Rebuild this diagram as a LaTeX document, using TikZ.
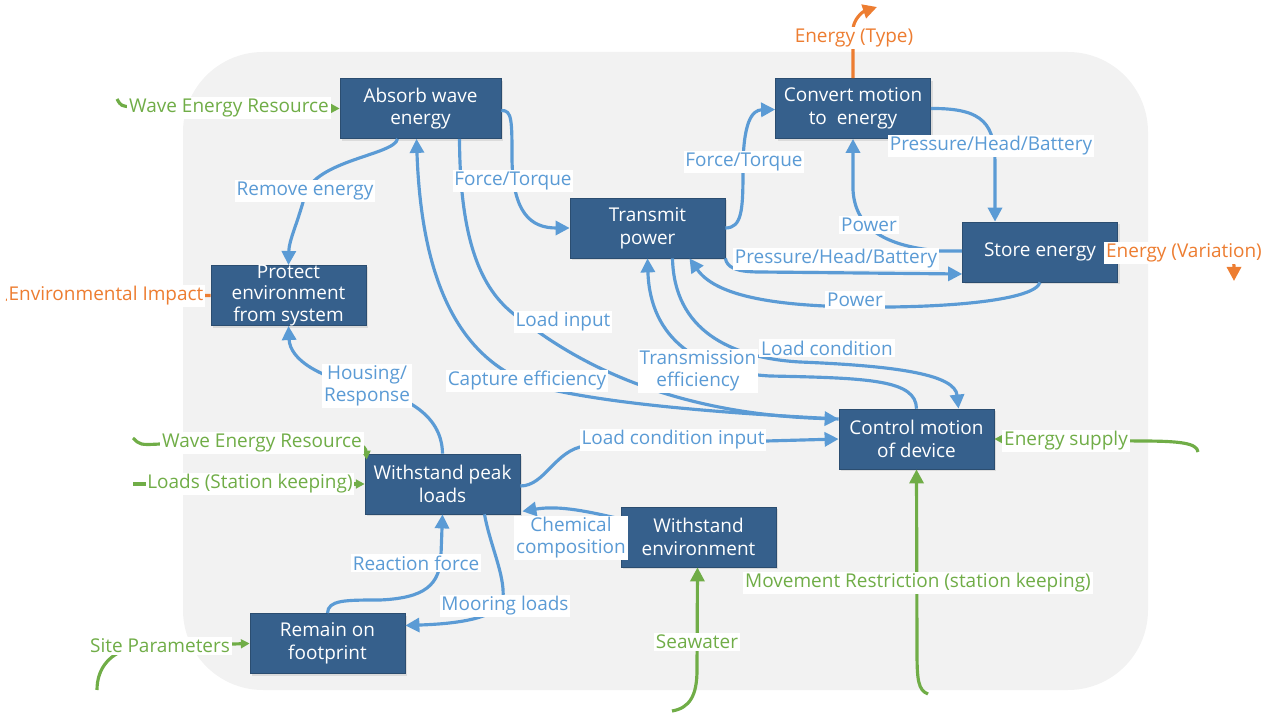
\documentclass[tikz,border=0pt]{standalone}
\usepackage{fontspec}
\setmainfont{Open Sans}
\usetikzlibrary{arrows.meta, calc, shadows}

\definecolor{boxblue}{HTML}{36608C}
\definecolor{linkblue}{HTML}{5B9BD5}
\definecolor{inputgreen}{HTML}{70AD47}
\definecolor{outputorange}{HTML}{ED7D31}
\definecolor{panelgray}{HTML}{F2F2F2}

\tikzset{
  func/.style={rectangle, draw=boxblue!80!black, line width=0.4pt, fill=boxblue,
    text=white, align=center, minimum width=3.1cm, minimum height=1.2cm,
    inner sep=1pt, font=\fontsize{10.8}{13}\selectfont,
    drop shadow={opacity=0.2, shadow xshift=1.2pt, shadow yshift=-1.2pt}},
  flow/.style={draw=linkblue, line width=1.8pt, -{Triangle[length=8pt,width=8pt]}},
  feed/.style={draw=inputgreen, line width=1.8pt, -{Triangle[length=5pt,width=5pt]}},
  bigfeed/.style={feed, -{Triangle[length=8pt,width=8pt]}},
  emit/.style={draw=outputorange, line width=1.8pt, -{Triangle[length=8pt,width=8pt]}},
  tag/.style={fill=white, inner sep=1pt, text=linkblue, align=center,
    font=\fontsize{10.8}{12.5}\selectfont},
  gtag/.style={tag, text=inputgreen},
  otag/.style={tag, text=outputorange},
}

\begin{document}
\begin{tikzpicture}[x=0.02cm, y=-0.02cm]
\useasboundingbox (0,0) rectangle (1272,713);
% panel
\fill[panelgray, rounded corners=1.6cm] (183,52) rectangle (1148,690);

% functions
\node[func, minimum width=3.22cm] (absorb) at (420.5,108.5) {Absorb wave\\energy};
\node[func] (convert) at (853,108.5) {Convert motion\\to~ energy};
\node[func] (transmit) at (647.5,228) {Transmit\\power};
\node[func] (store) at (1040,252) {Store energy};
\node[func, inner sep=0pt, font=\fontsize{10.8}{12}\selectfont] (protect) at (288.5,295.5) {Protect\\environment\\from system};
\node[func] (control) at (916.5,439) {Control motion\\of device};
\node[func] (peak) at (442.5,484) {Withstand peak\\loads};
\node[func] (envir) at (698.5,537) {Withstand\\environment};
\node[func] (footprint) at (327.5,643.5) {Remain on\\footprint};

% free ends
\coordinate (werA) at (117,99);
\coordinate (werB) at (133,438);
\coordinate (loadsin) at (133,484);
\coordinate (sitein) at (97,690);
\coordinate (seain) at (672,711);
\coordinate (movein) at (928,694);
\coordinate (supplyin) at (1198,452);
\coordinate (typeout) at (877,7);
\coordinate (varout) at (1234,281);
\coordinate (impactout) at (7,301);

% inputs
\draw[feed] (werA) .. controls (121,106) .. (132,107) -- (absorb.west);
\draw[feed] (werB) .. controls (140,445) .. (160,444) -- (355,444)
  .. controls (364,444) and (366,450) .. ($(peak.north west)+(2,6)$);
\draw[feed] (loadsin) -- (peak.west);
\draw[feed] (sitein) .. controls (97,668) and (110,652) .. (135,647) -- (footprint.west);
\draw[bigfeed] (seain) .. controls (690,708) and (697,695) .. (697,670) -- ($(envir.south)+(-1,0)$);
\draw[bigfeed] (movein) .. controls (918,690) and (917,680) .. (917,650) -- (control.south);
\draw[feed] (supplyin) .. controls (1197,443) and (1180,441) .. (1140,441) -- (control.east);

% outputs
\draw[emit] (convert.north) -- (853,30) .. controls (853,20) and (862,12) .. (typeout);
\draw[emit] (store.east) -- (1222,252) .. controls (1232,252) and (1234,260) .. (varout);
\draw[draw=outputorange, line width=1.8pt] (protect.west) -- (10,296) -- (impactout);

% internal flows
\draw[flow] ($(absorb.south)+(-23,0)$) .. controls (395,155) and (315,160) .. (305,195)
  .. controls (297,225) and (289,240) .. (protect.north);
\draw[flow] ($(absorb.east)+(0,2)$) .. controls (512,110) and (512,120) .. (512,160)
  .. controls (513,212) and (530,228) .. (transmit.west);
\draw[flow] (transmit.east) .. controls (742,228) and (743,210) .. (743,170)
  .. controls (743,122) and (752,110) .. ($(convert.west)+(0,1)$);
\draw[flow] (convert.east) .. controls (985,108) and (995,125) .. (995,165)
  -- ($(store.north)+(-45,0)$);
\draw[flow] ($(store.west)+(0,-1)$) -- (940,251) .. controls (880,246) and (855,225) .. (853,190)
  -- (convert.south);
\draw[flow] (transmit.south east) .. controls (727,267) and (735,272) .. (760,272)
  -- ($(store.west)+(0,22)$);
\draw[flow] (store.south) .. controls (1035,300) and (950,308) .. (860,307)
  .. controls (770,306) and (715,295) .. ($(transmit.south)+(42,0)$);
\draw[flow] ($(absorb.south)+(39,0)$) .. controls (460,260) and (490,300) .. (525,322)
  .. controls (600,380) and (700,415) .. ($(control.west)+(0,-20)$);
\draw[flow] ($(control.west)+(0,-20)$) .. controls (700,412) and (600,402) .. (540,387)
  .. controls (470,365) and (422,300) .. ($(absorb.south)+(-4,0)$);
\draw[flow] ($(peak.east)+(0,2)$) .. controls (545,486) and (555,450) .. (585,446)
  -- (control.west);
\draw[flow] (control.north) .. controls (916,380) and (870,378) .. (770,376)
  .. controls (700,372) and (650,340) .. (transmit.south);
\draw[flow] ($(transmit.south)+(25,0)$) .. controls (674,330) and (730,358) .. (800,362)
  .. controls (900,366) and (955,375) .. ($(control.north)+(42,0)$);
\draw[flow] (peak.north) .. controls (442,412) and (400,395) .. (366,387)
  .. controls (320,378) and (290,360) .. (protect.south);
\draw[flow] ($(envir.west)+(0,-18)$) .. controls (590,512) and (560,505) .. ($(peak.south east)+(2,-3)$);
\draw[flow] (footprint.north) .. controls (328,600) and (345,600) .. (380,600)
  .. controls (425,598) and (440,585) .. (441,555) -- (peak.south);
\draw[flow] ($(peak.south)+(42,0)$) .. controls (490,545) and (505,575) .. (503,598)
  .. controls (500,620) and (450,624) .. ($(footprint.east)+(0,-18)$);

% labels
\node[gtag] (tWerA) at (229,108) {Wave Energy Resource};
\node[otag] (tType) at (854,38) {Energy (Type)};
\node[otag] (tVar) at (1184,253) {Energy (Variation)};
\node[otag] (tImpact) at (106,296) {Environmental Impact};
\node[tag] (tRemove) at (305,191) {Remove energy};
\node[tag] (tForceA) at (513,181) {Force/Torque};
\node[tag] (tForceB) at (744,162) {Force/Torque};
\node[tag] (tPhbA) at (991,146) {Pressure/Head/Battery};
\node[tag] (tPowerA) at (869,225) {Power};
\node[tag] (tPhbB) at (836,259) {Pressure/Head/Battery};
\node[tag] (tPowerB) at (855,300) {Power};
\node[tag] (tLoadIn) at (563,322) {Load input};
\node[tag] (tCapture) at (527,381) {Capture efficiency};
\node[tag] (tTrans) at (698,371) {Transmission\\efficiency};
\node[tag] (tLoadCond) at (827,348) {Load condition};
\node[tag] (tLoadCondIn) at (673,440) {Load condition input};
\node[tag] (tHousing) at (367,386) {Housing/\\Response};
\node[gtag] (tWerB) at (262,443) {Wave Energy Resource};
\node[gtag] (tLoads) at (250,484) {Loads (Station keeping)};
\node[tag] (tChem) at (571,538) {Chemical\\composition};
\node[tag] (tReact) at (416,563) {Reaction force};
\node[tag] (tMoor) at (505,606) {Mooring loads};
\node[gtag] (tSite) at (160,646) {Site Parameters};
\node[gtag] (tSea) at (697,642) {Seawater};
\node[gtag] (tMove) at (918,583) {Movement Restriction (station keeping)};
\node[gtag] (tSupply) at (1066,441) {Energy supply};
\end{tikzpicture}
\end{document}
